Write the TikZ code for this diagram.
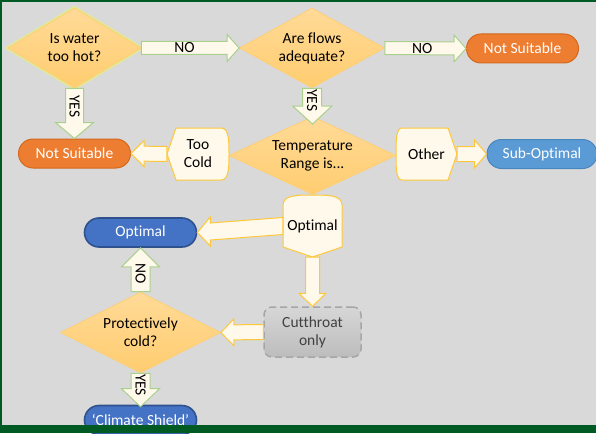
\documentclass[tikz,border=0pt]{standalone}
\usepackage{fontspec}
\setmainfont{Carlito}[Ligatures=CommonOff]
\usetikzlibrary{shapes.geometric,calc}
\definecolor{bg}{HTML}{D9D9D9}
\definecolor{band}{HTML}{005A24}
\definecolor{diatop}{HTML}{FFDA97}
\definecolor{diabot}{HTML}{FFCD70}
\definecolor{diaedge}{HTML}{FFCF73}
\definecolor{glow}{HTML}{E4EC88}
\definecolor{cream}{HTML}{FFF9EC}
\definecolor{gedge}{HTML}{A9D18E}
\definecolor{yedge}{HTML}{FFC83A}
\definecolor{orfill}{HTML}{ED7D31}
\definecolor{oredge}{HTML}{D2691F}
\definecolor{lbfill}{HTML}{5B9BD5}
\definecolor{lbedge}{HTML}{4A86BE}
\definecolor{dbfill}{HTML}{4472C4}
\definecolor{dbedge}{HTML}{2F528F}
\definecolor{ctedge}{HTML}{A6A6A6}
\definecolor{cttext}{HTML}{404040}
% block arrow: style, from, to, perpendicular unit vector, shaft half width, head half width, head length
\newcommand\blockarr[7]{%
  \draw[#1] ($(#2)+#5*(#4)$) -- ($(#3)!#7!(#2)+#5*(#4)$) -- ($(#3)!#7!(#2)+#6*(#4)$)
    -- (#3) -- ($(#3)!#7!(#2)-#6*(#4)$) -- ($(#3)!#7!(#2)-#5*(#4)$) -- ($(#2)-#5*(#4)$) -- cycle;}
% display shape outline pointing +x: half width, half height, point depth, curve depth
\newcommand\dispath[4]{(-#1+#4,-#2) -- (#1-#3,-#2) -- (#1,0) -- (#1-#3,#2) -- (-#1+#4,#2)
  .. controls (-#1,#2) and (-#1,0.5*#2) .. (-#1,0) .. controls (-#1,-0.5*#2) and (-#1,-#2) .. (-#1+#4,-#2) -- cycle}
\begin{document}
\begin{tikzpicture}[x=1pt,y=-1pt,
  every node/.style={font=\fontsize{15.5}{18}\selectfont, align=center, inner sep=0pt},
  dia/.style={diamond, top color=diatop, bottom color=diabot, draw=diaedge, line width=0.8pt},
  term/.style={rectangle, rounded corners=14.5pt, minimum height=29pt, line width=1pt, text=white},
  orterm/.style={term, fill=orfill, draw=oredge, minimum width=112pt},
  lbterm/.style={term, fill=lbfill, draw=lbedge, minimum width=110pt},
  dbterm/.style={term, fill=dbfill, draw=dbedge, line width=1.6pt, minimum width=112pt},
  garr/.style={fill=cream, draw=gedge, line width=1pt},
  yarr/.style={fill=cream, draw=yedge, line width=1pt},
  dispshape/.style={fill=cream, draw=yedge, line width=1pt},
  disptext/.style={rectangle, draw=none},
  lbl/.style={font=\fontsize{15.5}{18}\selectfont, text=black},
  vlbl/.style={lbl, rotate=-90}]
\useasboundingbox (0,0) rectangle (596,433);
\fill[bg] (0,0) rectangle (596,433);

% diamonds
\draw[glow, line width=4pt, opacity=0.8] (74.5,8) -- (141,48) -- (74.5,88) -- (8,48) -- cycle;
\node[dia, aspect=1.66, minimum width=133pt, minimum height=80pt] (d1) at (74.5,48) {Is water\\too hot?};
\node[dia, aspect=1.8, minimum width=145pt, minimum height=80pt] (d2) at (312,48) {Are flows\\adequate?};
\node[dia, aspect=2.1, minimum width=167pt, minimum height=78pt] (d3) at (312.5,155.5) {Temperature\\Range is...};
\node[dia, aspect=2, minimum width=160pt, minimum height=81pt] (d4) at (140.5,332.5) {Protectively\\cold?};

% terminals
\node[orterm] (ns1) at (522.5,48.5) {Not Suitable};
\node[orterm] (ns2) at (74.5,153.5) {Not Suitable};
\node[lbterm] (so) at (542,154) {Sub-Optimal};
\node[dbterm] (opt) at (140.5,232.5) {Optimal};
\node[dbterm] (cs) at (140.5,420) {‘Climate Shield’};

% display shapes
\coordinate (tcc) at (198,154);
\draw[dispshape, shift={(tcc)}, xscale=-1] \dispath{31}{26}{9}{8};
\node[disptext, minimum width=62pt, minimum height=52pt] (tc) at (tcc) {Too\\Cold};
\coordinate (otc) at (426.5,154);
\draw[dispshape, shift={(otc)}] \dispath{30.5}{26}{9}{6};
\node[disptext, minimum width=61pt, minimum height=52pt] (ot) at (otc) {Other};
\coordinate (opc) at (312.5,226);
\draw[dispshape, shift={(opc)}, rotate=-90] \dispath{31}{29.5}{10}{10};
\node[disptext, minimum width=59pt, minimum height=62pt] (op) at (opc) {Optimal};

% cutthroat
\node[rectangle, rounded corners=8pt, minimum width=97pt, minimum height=50pt,
  top color=black!16, bottom color=black!26, draw=ctedge, line width=1.5pt,
  dash pattern=on 7pt off 4pt, text=cttext] (ct) at (312.5,332) {Cutthroat\\only};

% arrows
\coordinate (d3top) at ($(d3.north)+(0,8)$);
\coordinate (cstop) at ($(cs.north)+(0,2)$);
\blockarr{garr}{d1.east}{d2.west}{0,1}{6.5}{13.5}{12pt}
\blockarr{garr}{d2.east}{ns1.west}{0,1}{6.5}{13.5}{12pt}
\blockarr{garr}{d1.south}{ns2.north}{1,0}{9}{19}{16pt}
\blockarr{garr}{d2.south}{d3top}{1,0}{9.5}{19.5}{18pt}
\blockarr{yarr}{tc.west}{ns2.east}{0,1}{7.5}{13}{13pt}
\blockarr{yarr}{ot.east}{so.west}{0,1}{7.5}{14}{12pt}
\blockarr{yarr}{op.west}{opt.east}{0,1}{8.5}{14.5}{13pt}
\blockarr{yarr}{op.south}{ct.north}{1,0}{7}{13.5}{13pt}
\blockarr{yarr}{ct.west}{d4.east}{0,1}{7.5}{13.5}{13pt}
\blockarr{garr}{d4.north}{opt.south}{1,0}{9.5}{19}{19pt}
\blockarr{garr}{d4.south}{cstop}{1,0}{9.5}{19}{18pt}

% arrow labels
\node[lbl] at ($(d1.east)!0.44!(d2.west)$) {NO};
\node[lbl] at ($(d2.east)!0.46!(ns1.west)$) {NO};
\node[vlbl] at ($(d1.south)!0.36!(ns2.north)$) {YES};
\node[vlbl] at ($(d2.south)!0.33!(d3top)$) {YES};
\node[vlbl] at ($(d4.north)!0.4!(opt.south)$) {NO};
\node[vlbl] at ($(d4.south)!0.35!(cstop)$) {YES};

% frame
\fill[band] (0,425) rectangle (596,433);
\fill[band] (0,0) rectangle (596,2.5);
\fill[band] (0,0) rectangle (1.5,433);
\end{tikzpicture}
\end{document}
